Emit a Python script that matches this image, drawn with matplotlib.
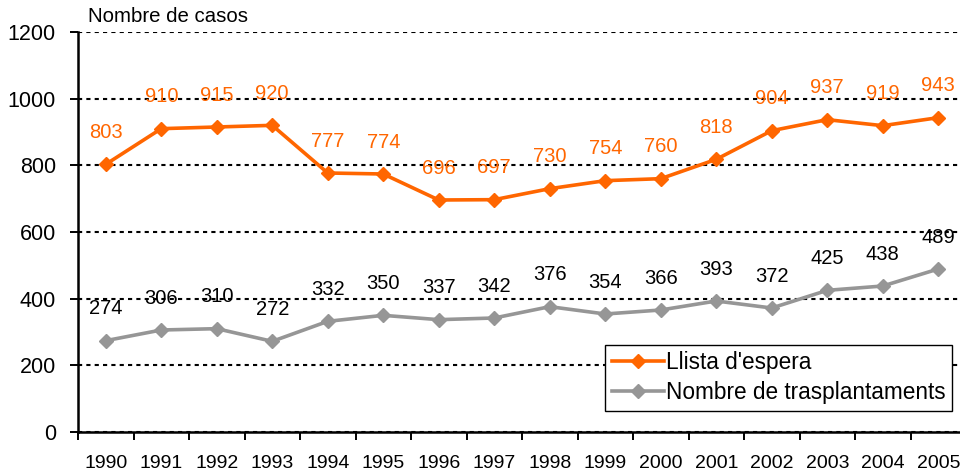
import matplotlib
matplotlib.use("Agg")
import matplotlib.pyplot as plt
import numpy as np

anys = ['1990', '1991', '1992', '1993', '1994', '1995', '1996', '1997',
        '1998', '1999', '2000', '2001', '2002', '2003', '2004', '2005']
llista_espera = [803, 910, 915, 920, 777, 774, 696, 697, 730, 754, 760, 818, 904, 937, 919, 943]
trasplantaments = [274, 306, 310, 272, 332, 350, 337, 342, 376, 354, 366, 393, 372, 425, 438, 489]

plt.rcParams['font.family'] = ['Liberation Sans', 'DejaVu Sans']

taronja = '#FF6600'
gris = '#969696'

fig = plt.figure(figsize=(9.6, 4.76), dpi=100)
ax = fig.add_axes([78 / 960, 44 / 476, 888 / 960, 400 / 476])

x = np.arange(len(anys))
ax.plot(x, llista_espera, color=taronja, lw=2.6, marker='D', ms=7.5,
        label="Llista d'espera", zorder=3)
ax.plot(x, trasplantaments, color=gris, lw=2.6, marker='D', ms=7.5,
        label='Nombre de trasplantaments', zorder=3)

for xi, v in zip(x, llista_espera):
    ax.annotate(str(v), (xi, v), xytext=(0, 23), textcoords='offset points',
                ha='center', va='center', color=taronja, fontsize=14.5)
for xi, v in zip(x, trasplantaments):
    ax.annotate(str(v), (xi, v), xytext=(0, 23), textcoords='offset points',
                ha='center', va='center', color='black', fontsize=14.5)

ax.set_xlim(-0.5, len(anys) - 0.5)
ax.set_ylim(0, 1200)
ax.set_yticks(range(0, 1201, 200))
ax.yaxis.grid(True, color='black', linestyle=(0, (2, 2)), lw=1.5)
ax.set_axisbelow(True)

ax.set_xticks(x)
ax.set_xticklabels(anys)
ax.set_xticks(np.arange(-0.5, len(anys), 1), minor=True)
ax.tick_params(axis='x', which='major', length=0, pad=16.5, labelsize=14)
ax.tick_params(axis='x', which='minor', length=6, width=1.4, direction='out')
ax.tick_params(axis='y', length=6, width=1.4, pad=10, labelsize=15.5)

for s in ['top', 'right']:
    ax.spines[s].set_visible(False)
for s in ['left', 'bottom']:
    ax.spines[s].set_linewidth(1.8)

leg = ax.legend(loc='lower right', bbox_to_anchor=(952 / 960, 65 / 476),
                bbox_transform=fig.transFigure, fontsize=16.3, frameon=True,
                fancybox=False, edgecolor='black', framealpha=1,
                handlelength=2.3, handletextpad=0.08, borderpad=0.3,
                labelspacing=0.3, borderaxespad=0)
leg.get_frame().set_linewidth(1.0)

fig.text(88 / 960, 1 - 16 / 476, 'Nombre de casos', fontsize=14.7, va='center', ha='left')

fig.savefig('out.png', dpi=100)
